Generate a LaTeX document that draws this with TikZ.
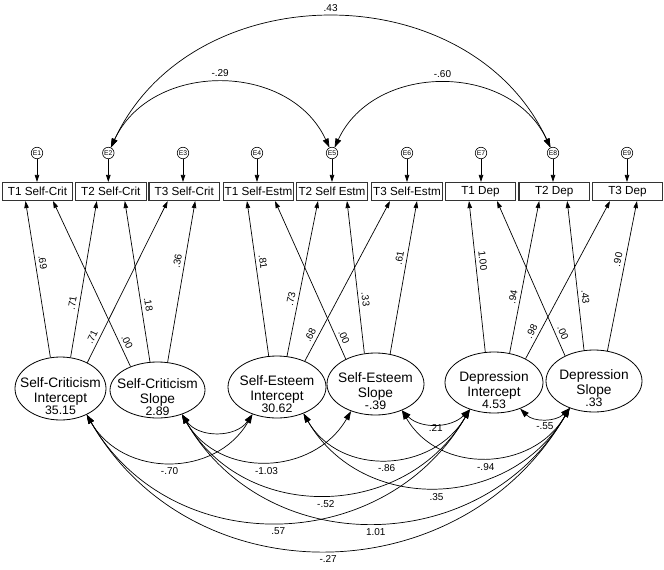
\documentclass[tikz,border=0pt]{standalone}
\usepackage{fontspec}
\setmainfont{Liberation Sans}
\usetikzlibrary{arrows.meta,shapes.geometric,calc}
\newcommand{\latfont}{\fontsize{13.7}{15}\selectfont}
\newcommand{\numfont}{\fontsize{12.3}{13}\selectfont}
\newcommand{\latxt}[3]{\raisebox{0pt}[51pt][0pt]{\vbox{\lineskiplimit=-100pt\baselineskip=15pt\halign{\hfil##\hfil\cr\latfont #1\cr\latfont #2\cr\noalign{\vskip-3pt}\numfont #3\cr}}}}
\begin{document}
\begin{tikzpicture}[x=1pt,y=1pt,
  obs/.style={draw=black!80, line width=1.1pt, minimum width=70.5pt, minimum height=18pt, inner sep=0pt, font=\fontsize{11.7}{12}\selectfont},
  err/.style={circle, draw, line width=0.6pt, minimum size=11.5pt, inner sep=0pt, font=\fontsize{6.8}{7}\selectfont},
  latent/.style={ellipse, draw, line width=0.8pt, inner xsep=-30pt, inner ysep=-12pt},
  load/.style={-{Triangle[length=7pt,width=4.5pt]}, line width=0.7pt},
  cov/.style={{Triangle[length=9pt,width=6pt]}-{Triangle[length=9pt,width=6pt]}, line width=0.7pt},
  arc/.style={cov, out=-60, in=-120, looseness=1.13},
  smallarc/.style={cov, out=-45, in=-135, looseness=1},
  toparc/.style={cov, out=65, in=115, looseness=1.12},
  lab/.style={font=\fontsize{10}{11}\selectfont, inner sep=1.5pt},
]
\useasboundingbox (0,0) rectangle (664,-570);

% observed variables
\node[obs] (O1) at (37.5,-191.5) {T1 Self-Crit};
\node[obs] (O2) at (110.8,-191.5) {T2 Self-Crit};
\node[obs] (O3) at (184.2,-191.5) {T3 Self-Crit};
\node[obs] (O4) at (258.5,-191.5) {T1 Self-Estm};
\node[obs] (O5) at (332,-191.5) {T2 Self Estm};
\node[obs] (O6) at (407,-191.5) {T3 Self-Estm};
\node[obs] (O7) at (480.5,-191.5) {T1 Dep};
\node[obs] (O8) at (554.2,-191.5) {T2 Dep};
\node[obs] (O9) at (627.5,-191.5) {T3 Dep};

% error terms
\node[err] (E1) at (37,-153) {E1};
\node[err] (E2) at (108.3,-153) {E2};
\node[err] (E3) at (183,-153) {E3};
\node[err] (E4) at (257,-153) {E4};
\node[err] (E5) at (332,-153) {E5};
\node[err] (E6) at (407,-153) {E6};
\node[err] (E7) at (481,-153) {E7};
\node[err] (E8) at (553,-153) {E8};
\node[err] (E9) at (627,-153) {E9};
\foreach \i in {1,...,9}{\draw[load] (E\i) -- (E\i |- O\i.north);}

% error covariances
\draw[toparc] (E2) to node[lab, above=4pt] {.43} (E8);
\draw[toparc] (E2) to node[lab, above=4pt] {-.29} (E5);
\draw[toparc] (E5) to node[lab, above=4pt] {-.60} (E8);

% latent variables
\node[latent, minimum width=91pt, minimum height=63pt] (SCI) at (60.5,-388.5) {\latxt{Self-Criticism}{Intercept}{35.15}};
\node[latent, minimum width=95pt, minimum height=56pt] (SCS) at (157.5,-390) {\latxt{Self-Criticism}{Slope}{2.89}};
\node[latent, minimum width=98pt, minimum height=62pt] (SEI) at (277,-387) {\latxt{Self-Esteem}{Intercept}{30.62}};
\node[latent, minimum width=97pt, minimum height=62pt] (SES) at (375.5,-384) {\latxt{Self-Esteem}{Slope}{-.39}};
\node[latent, minimum width=98pt, minimum height=61pt] (DI) at (494,-382.5) {\latxt{Depression}{Intercept}{4.53}};
\node[latent, minimum width=96pt, minimum height=62pt] (DS) at (594,-381) {\latxt{Depression}{Slope}{.33}};

% loadings: self-criticism
\draw[load] (SCI.108) -- ([xshift=-12pt]O1.south) node[lab, pos=0.6, sloped, above=2pt] {.69};
\draw[load] (SCI.72) -- ([xshift=-14pt]O2.south) node[lab, pos=0.34, sloped, above=2pt] {.71};
\draw[load] (SCI.44) -- ([xshift=-16.5pt]O3.south) node[lab, pos=0.14, sloped, above=2pt] {.71};
\draw[load] (SCS.139) -- ([xshift=15.5pt]O1.south) node[lab, pos=0.13, sloped, above=2pt] {.00};
\draw[load] (SCS.105) -- ([xshift=14pt]O2.south) node[lab, pos=0.35, sloped, above=2pt] {.18};
\draw[load] (SCS.70) -- ([xshift=11pt]O3.south) node[lab, pos=0.62, sloped, above=2pt] {.36};
% loadings: self-esteem
\draw[load] (SEI.105) -- ([xshift=-11.5pt]O4.south) node[lab, pos=0.6, sloped, above=2pt] {.81};
\draw[load] (SEI.72) -- ([xshift=-14pt]O5.south) node[lab, pos=0.36, sloped, above=2pt] {.73};
\draw[load] (SEI.43) -- ([xshift=-17pt]O6.south) node[lab, pos=0.14, sloped, above=2pt] {.68};
\draw[load] (SES.140) -- ([xshift=16.5pt]O4.south) node[lab, pos=0.12, sloped, above=2pt] {.00};
\draw[load] (SES.110) -- ([xshift=15pt]O5.south) node[lab, pos=0.35, sloped, above=2pt] {.33};
\draw[load] (SES.64) -- ([xshift=10pt]O6.south) node[lab, pos=0.62, sloped, above=2pt] {.61};
% loadings: depression
\draw[load] (DI.106) -- ([xshift=-11.5pt]O7.south) node[lab, pos=0.6, sloped, above=2pt] {1.00};
\draw[load] (DI.62) -- ([xshift=-15pt]O8.south) node[lab, pos=0.36, sloped, above=2pt] {.94};
\draw[load] (DI.37) -- ([xshift=-17.5pt]O9.south) node[lab, pos=0.15, sloped, above=2pt] {.98};
\draw[load] (DS.139) -- ([xshift=16.5pt]O7.south) node[lab, pos=0.13, sloped, above=2pt] {.00};
\draw[load] (DS.108) -- ([xshift=13pt]O8.south) node[lab, pos=0.35, sloped, above=2pt] {.43};
\draw[load] (DS.66) -- ([xshift=9.5pt]O9.south) node[lab, pos=0.6, sloped, above=2pt] {.90};

% latent covariances
\draw[arc] (SCI.-45) to node[lab, below=4pt] {-.70} (SEI.-132);
\draw[cov, out=-55, in=-125, looseness=1.05] (SCS.-45) to (SEI.-132);
\draw[arc] (SCS.-45) to node[lab, below=4pt] {-1.03} (SES.-132);
\draw[arc] (SCS.-45) to node[lab, below=4pt] {-.52} (DI.-132);
\draw[arc] (SCI.-45) to node[lab, below=4pt] {.57} (DI.-132);
\draw[arc] (SCI.-45) to node[lab, below=4pt] {-.27} (DS.-132);
\draw[smallarc] (SES.-45) to node[lab, below=0pt, inner sep=0pt] {.21} (DI.-132);
\draw[arc] (SEI.-45) to node[lab, below=3pt] {-.86} (DI.-132);
\draw[arc] (SES.-45) to node[lab, below=4pt] {-.94} (DS.-132);
\draw[arc] (SEI.-45) to node[lab, below=4pt] {.35} (DS.-132);
\draw[arc] (SCS.-45) to node[lab, below=4pt] {1.01} (DS.-132);
\draw[smallarc] (DI.-45) to node[lab, below=2pt] {-.55} (DS.-132);
\end{tikzpicture}
\end{document}
